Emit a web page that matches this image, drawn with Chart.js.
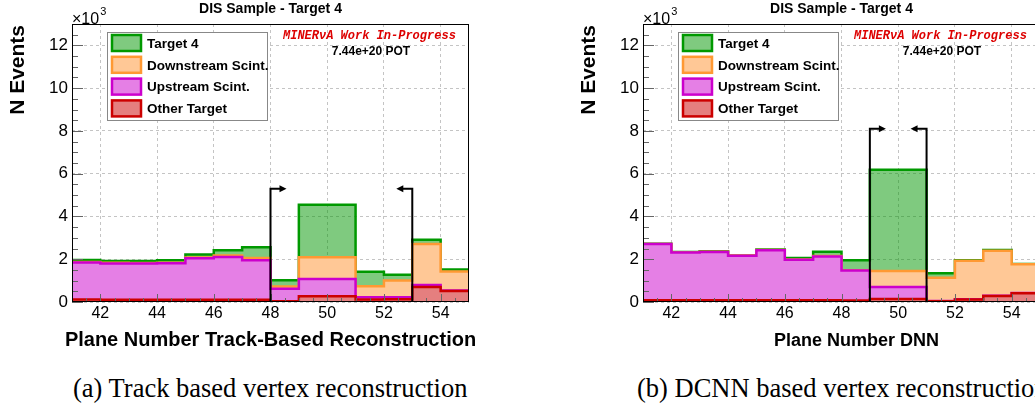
<!DOCTYPE html>
<html>
<head>
<meta charset="utf-8">
<script src="https://cdn.jsdelivr.net/npm/chart.js@4.4.0/dist/chart.umd.min.js"></script>
<style>
  html, body { margin: 0; padding: 0; background: #fff; overflow: hidden; }
  #page { position: relative; width: 1035px; height: 412px; overflow: hidden; }
  canvas { position: absolute; top: 0; width: 520px; height: 360px; }
  .cap { position: absolute; top: 375px; font-family: "Liberation Serif", "Times New Roman", serif;
         font-size: 26.5px; line-height: 26px; white-space: nowrap; color: #000; }
</style>
</head>
<body>
<div id="page">
  <canvas id="left" width="520" height="360" style="left:0"></canvas>
  <canvas id="right" width="520" height="360" style="left:520px"></canvas>
  <div class="cap" style="left:73px">(a) Track based vertex reconstruction</div>
  <div class="cap" style="left:637px">(b) DCNN based vertex reconstruction</div>
</div>
<script>
// bin edges in plane number (the 49-51 bin covers target 4)
const binEdges = [41, 42, 43, 44, 45, 46, 47, 48, 49, 51, 52, 53, 54, 55];
const xTickValues = [42, 44, 46, 48, 50, 52, 54];
const yTickValues = [0, 2, 4, 6, 8, 10, 12];
const seriesNames = ['Other Target', 'Upstream Scint.', 'Downstream Scint.', 'Target 4'];

// track based reconstruction, events per bin (x10^3)
const trackOther      = [0.12, 0.10, 0.10, 0.10, 0.11, 0.11, 0.10, 0.03, 0.27, 0.12, 0.13, 0.70, 0.52];
const trackUpstream   = [1.73, 1.70, 1.70, 1.71, 1.94, 1.99, 1.85, 0.59, 0.81, 0.10, 0.09, 0.09, 0.02];
const trackDownstream = [0.02, 0.03, 0.02, 0.02, 0.03, 0.07, 0.11, 0.11, 1.01, 0.52, 0.79, 1.92, 0.89];
const trackTarget4    = [0.09, 0.09, 0.10, 0.12, 0.14, 0.25, 0.50, 0.29, 2.46, 0.67, 0.26, 0.20, 0.09];
const trackCuts = [48, 53];
const trackCutHeight = 5.3;

// DNN reconstruction, events per bin (x10^3)
const dnnOther      = [0.08, 0.08, 0.08, 0.08, 0.08, 0.08, 0.08, 0.07, 0.14, 0.03, 0.12, 0.28, 0.41];
const dnnUpstream   = [2.63, 2.23, 2.26, 2.08, 2.34, 1.89, 2.05, 1.40, 0.56, 0.02, 0.01, 0.01, 0.01];
const dnnDownstream = [0.00, 0.01, 0.01, 0.01, 0.01, 0.02, 0.02, 0.02, 0.75, 1.08, 1.80, 2.11, 1.34];
const dnnTarget4    = [0.01, 0.02, 0.02, 0.01, 0.02, 0.07, 0.20, 0.46, 4.74, 0.21, 0.02, 0.03, 0.02];
const dnnCuts = [49, 51];
const dnnCutHeight = 8.1;

const sans = '"Liberation Sans", Arial, sans-serif';
const lineColors = ['#cc0000', '#cc00cc', '#ff9933', '#009900'];
const fillColors = ['#e57f7f', '#e57fe5', '#ffc896', 'rgba(0,150,0,0.5)'];

const stepData = values =>
  binEdges.map((e, i) => ({ x: e, y: values[Math.min(i, values.length - 1)] }));

const buildDatasets = parts => {
  let running = parts[0].map(() => 0);
  return parts.map((p, k) => {
    running = running.map((r, i) => r + p[i]);
    return {
      label: seriesNames[k],
      data: stepData(running),
      stepped: true,
      fill: k === 0 ? 'origin' : '-1',
      borderColor: lineColors[k],
      backgroundColor: fillColors[k],
      borderWidth: 2.5,
      pointRadius: 0
    };
  });
};

const decor = {
  id: 'decor',
  afterDraw(chart, args, o) {
    const { ctx, chartArea: ca, scales: { x, y } } = chart;
    ctx.save();
    // inward ticks like ROOT
    ctx.strokeStyle = '#666';
    ctx.lineWidth = 1;
    ctx.beginPath();
    for (let v = 0; v <= 13; v += 0.5) {
      const py = Math.round(y.getPixelForValue(v)) + 0.5;
      ctx.moveTo(ca.left, py);
      ctx.lineTo(ca.left + (v % 2 === 0 ? 11 : 6), py);
    }
    for (let v = 41.5; v < 55; v += 0.5) {
      const px = Math.round(x.getPixelForValue(v)) + 0.5;
      ctx.moveTo(px, ca.bottom);
      ctx.lineTo(px, ca.bottom - (v % 2 === 0 ? 8 : 4));
    }
    ctx.stroke();
    // frame
    ctx.strokeStyle = '#000';
    ctx.strokeRect(ca.left + 0.5, ca.top + 0.5, ca.width - 1, ca.height - 1);

    // cut arrows
    ctx.lineWidth = 2;
    ctx.fillStyle = '#000';
    o.cuts.forEach((c, i) => {
      const dir = i === 0 ? 1 : -1;
      const px = x.getPixelForValue(c);
      const top = y.getPixelForValue(o.cutHeight);
      ctx.beginPath();
      ctx.moveTo(px, y.getPixelForValue(0));
      ctx.lineTo(px, top);
      ctx.lineTo(px + dir * 10, top);
      ctx.stroke();
      ctx.beginPath();
      ctx.moveTo(px + dir * 16, top);
      ctx.lineTo(px + dir * 9, top - 3.5);
      ctx.lineTo(px + dir * 9, top + 3.5);
      ctx.closePath();
      ctx.fill();
    });

    // texts
    ctx.fillStyle = '#000';
    ctx.textBaseline = 'alphabetic';
    ctx.textAlign = 'center';
    ctx.font = 'bold 14px ' + sans;
    ctx.fillText('DIS Sample - Target 4', (ca.left + ca.right) / 2, 13);
    ctx.font = 'bold ' + o.xTitleSize + 'px ' + sans;
    ctx.fillText(o.xTitle, (ca.left + ca.right) / 2 + o.xTitleShift, 346);
    ctx.font = 'bold 12px ' + sans;
    ctx.fillText('7.44e+20 POT', ca.left + 299, 55);

    ctx.textAlign = 'left';
    ctx.font = '16px ' + sans;
    ctx.fillText('×10', ca.left, 24);
    const w10 = ctx.measureText('×10').width;
    ctx.font = '11px ' + sans;
    ctx.fillText('3', ca.left + w10 + 1, 15);

    ctx.fillStyle = '#dd0000';
    ctx.font = 'italic bold 12px "Liberation Mono", "Courier New", monospace';
    ctx.fillText('MINERνA Work In-Progress', ca.left + 211, 38.5);

    ctx.save();
    ctx.fillStyle = '#000';
    ctx.translate(ca.left - 54, ca.top + 1);
    ctx.rotate(-Math.PI / 2);
    ctx.textAlign = 'right';
    ctx.textBaseline = 'middle';
    ctx.font = 'bold 21px ' + sans;
    ctx.fillText('N Events', 0, 0);
    ctx.restore();

    // legend box
    const bx = ca.left + 35, by = ca.top + 8;
    ctx.fillStyle = '#fff';
    ctx.fillRect(bx, by, 160, 88);
    ctx.strokeStyle = '#888';
    ctx.lineWidth = 1;
    ctx.strokeRect(bx + 0.5, by + 0.5, 160, 88);
    ctx.font = 'bold 13.5px ' + sans;
    ctx.textBaseline = 'middle';
    const sets = chart.data.datasets.slice().reverse();
    sets.forEach((ds, i) => {
      const cy = by + 11 + i * 21.8;
      ctx.fillStyle = '#fff';
      ctx.fillRect(bx + 5, cy - 8, 29, 16);
      ctx.fillStyle = ds.backgroundColor;
      ctx.fillRect(bx + 5, cy - 8, 29, 16);
      ctx.strokeStyle = ds.borderColor;
      ctx.lineWidth = 2.5;
      ctx.strokeRect(bx + 5, cy - 8, 29, 16);
      ctx.fillStyle = '#000';
      ctx.fillText(ds.label, bx + 40, cy + 1);
    });
    ctx.restore();
  }
};

const makeChart = (id, parts, panel) => new Chart(document.getElementById(id), {
  type: 'line',
  data: { datasets: buildDatasets(parts) },
  plugins: [decor],
  options: {
    responsive: false,
    animation: false,
    layout: { padding: { top: 24, right: panel.rightPad, left: 0, bottom: 0 } },
    plugins: {
      legend: { display: false },
      tooltip: { enabled: false },
      decor: panel
    },
    scales: {
      x: {
        type: 'linear', min: 41, max: 55,
        afterBuildTicks: s => { s.ticks = xTickValues.map(v => ({ value: v })); },
        afterFit: s => { s.height = 360 - 302; },
        ticks: { color: '#000', font: { family: sans, size: 16 }, padding: 2, maxRotation: 0, autoSkip: false },
        grid: { color: '#c4c4c4', drawTicks: false },
        border: { display: false, dash: [3, 3] }
      },
      y: {
        min: 0, max: 13,
        afterBuildTicks: s => { s.ticks = yTickValues.map(v => ({ value: v })); },
        afterFit: s => { s.width = panel.leftW; },
        ticks: { color: '#000', font: { family: sans, size: 17 }, padding: 4 },
        grid: { color: '#c4c4c4', drawTicks: false },
        border: { display: false, dash: [3, 3] }
      }
    }
  }
});

makeChart('left', [trackOther, trackUpstream, trackDownstream, trackTarget4], {
  leftW: 72, rightPad: 51, cuts: trackCuts, cutHeight: trackCutHeight,
  xTitle: 'Plane Number Track-Based Reconstruction', xTitleSize: 20, xTitleShift: 0
});
makeChart('right', [dnnOther, dnnUpstream, dnnDownstream, dnnTarget4], {
  leftW: 123, rightPad: 0, cuts: dnnCuts, cutHeight: dnnCutHeight,
  xTitle: 'Plane Number DNN', xTitleSize: 18, xTitleShift: 15
});
</script>
</body>
</html>
